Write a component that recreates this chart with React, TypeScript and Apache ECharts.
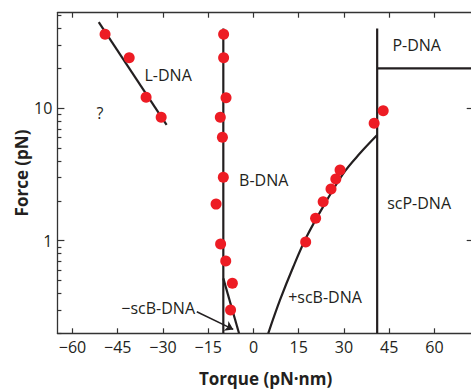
import React, { useEffect, useRef } from "react";
import * as echarts from "echarts";

// Torque (pN·nm) / Force (pN) measured points
const lDnaTorque = [-49.2, -41.2, -35.6, -30.6];
const lDnaForce = [36.2, 24.1, 12.1, 8.55];
const bDnaTorque = [-9.9, -9.9, -9.1, -11.0, -10.3, -10.0, -12.4, -10.9, -9.2, -7.0, -7.6];
const bDnaForce = [36.2, 24.1, 12.0, 8.55, 6.04, 3.01, 1.89, 0.944, 0.703, 0.477, 0.3];
const posScTorque = [17.3, 20.6, 23.1, 25.7, 27.3, 28.7, 40.0, 43.0];
const posScForce = [0.98, 1.48, 1.97, 2.46, 2.92, 3.42, 7.7, 9.6];

// phase boundary lines
const lFitTorque = [-51.3, -28.8];
const lFitForce = [44.7, 7.5];
const bLineTorque = [-10, -10];
const bLineForce = [40, 0.2];
const negScTorque = [-10, -4.8];
const negScForce = [0.52, 0.2];
const posCurveTorque = [4.9, 8.8, 13.2, 17.6, 23.1, 29.8, 35.3, 41.0];
const posCurveForce = [0.2, 0.357, 0.636, 1.07, 1.81, 3.23, 4.57, 6.28];
const scPTorque = [41, 41];
const scPForce = [0.2, 40];
const pDnaTorque = [41, 73];
const pDnaForce = [20, 20];

// region labels
const labelTexts = ["L-DNA", "?", "B-DNA", "P-DNA", "scP-DNA", "+scB-DNA", "\u2212scB-DNA"];
const labelTorque = [-28.3, -50.9, 3.4, 54.1, 54.9, 23.7, -31.6];
const labelForce = [17.8, 9.17, 2.87, 30.1, 1.92, 0.378, 0.309];
const arrowTorque = [-18.8, -6.7];
const arrowForce = [0.291, 0.214];

// axes
const xTicks = [-60, -45, -30, -15, 0, 15, 30, 45, 60];
const yMajor = [1, 10];
const yMinor = [0.2, 0.3, 0.4, 0.5, 0.6, 0.7, 0.8, 0.9, 2, 3, 4, 5, 6, 7, 8, 9, 20, 30, 40, 50];
const xMin = -65;
const xMax = 73;
const yMin = 0.2;
const yMax = 52.7;

const FONT = "'Open Sans', 'Noto Sans', sans-serif";
const INK = "#231f20";
const AXIS = "#333333";
const RED = "#ed1c24";

const zip = (a: number[], b: number[]) => a.map((v, i) => [v, b[i]]);

export default function App() {
  const ref = useRef<HTMLDivElement>(null);
  useEffect(() => {
    if (!ref.current) return;
    const chart = echarts.init(ref.current, null, { renderer: "svg" });
    const lg = Math.log10;
    const axisLine = { show: true, onZero: false, lineStyle: { color: AXIS, width: 1.3 } };
    const tickStyle = { color: AXIS, width: 1.2 };
    const lineSeries = (t: number[], f: number[], smooth: number | boolean = false) => ({
      type: "line",
      data: zip(t, f),
      showSymbol: false,
      symbol: "none",
      smooth,
      lineStyle: { color: INK, width: 2.2 },
      z: 2,
      silent: true,
    });
    const dotSeries = (t: number[], f: number[]) => ({
      type: "scatter",
      data: zip(t, f),
      symbol: "circle",
      symbolSize: 11,
      itemStyle: { color: RED, opacity: 1 },
      z: 5,
      silent: true,
    });
    chart.setOption({
      animation: false,
      backgroundColor: "#ffffff",
      grid: {
        left: 57.4,
        top: 12.7,
        right: -2.7,
        bottom: 57.7,
        containLabel: false,
        outerBoundsMode: "none",
      },
      xAxis: [
        {
          type: "value",
          min: xMin,
          max: xMax,
          position: "bottom",
          axisLine,
          axisTick: { show: true, inside: true, length: 5, customValues: xTicks, lineStyle: tickStyle },
          axisLabel: {
            customValues: xTicks,
            formatter: (v: number) => (v < 0 ? "\u2212" + Math.abs(v) : String(v)),
            margin: 6,
            fontSize: 16,
            color: INK,
            fontFamily: FONT,
          },
          splitLine: { show: false },
          name: "Torque (pN\u00b7nm)",
          nameLocation: "middle",
          nameGap: 37,
          nameTextStyle: { fontSize: 17, fontWeight: "bold", color: INK, fontFamily: FONT },
        },
        {
          type: "value",
          min: xMin,
          max: xMax,
          position: "top",
          axisLine,
          axisTick: { show: true, inside: true, length: 5, customValues: xTicks, lineStyle: tickStyle },
          axisLabel: { show: false },
          splitLine: { show: false },
        },
      ],
      yAxis: [
        {
          type: "log",
          logBase: 10,
          min: yMin,
          max: yMax,
          position: "left",
          axisLine,
          axisTick: { show: false },
          axisLabel: { show: false },
          splitLine: { show: false },
          name: "Force (pN)",
          nameLocation: "middle",
          nameGap: 27,
          nameTextStyle: { fontSize: 17, fontWeight: "bold", color: INK, fontFamily: FONT },
        },
        {
          type: "value",
          min: lg(yMin),
          max: lg(yMax),
          position: "left",
          axisLine: { show: false, onZero: false },
          axisTick: { show: true, inside: true, length: 7, customValues: yMajor.map(lg), lineStyle: tickStyle },
          axisLabel: {
            customValues: yMajor.map(lg),
            formatter: (v: number) => String(Math.round(Math.pow(10, v))),
            margin: 5,
            fontSize: 16,
            color: INK,
            fontFamily: FONT,
          },
          splitLine: { show: false },
        },
        {
          type: "value",
          min: lg(yMin),
          max: lg(yMax),
          position: "left",
          axisLine: { show: false, onZero: false },
          axisTick: { show: true, inside: true, length: 4, customValues: yMinor.map(lg), lineStyle: tickStyle },
          axisLabel: { show: false },
          splitLine: { show: false },
        },
        {
          type: "value",
          min: lg(yMin),
          max: lg(yMax),
          position: "right",
          axisLine,
          axisTick: { show: true, inside: true, length: 7, customValues: yMajor.map(lg), lineStyle: tickStyle },
          axisLabel: { show: false },
          splitLine: { show: false },
        },
      ],
      series: [
        lineSeries(lFitTorque, lFitForce),
        lineSeries(bLineTorque, bLineForce),
        lineSeries(negScTorque, negScForce),
        lineSeries(posCurveTorque, posCurveForce, 0.35),
        lineSeries(scPTorque, scPForce),
        lineSeries(pDnaTorque, pDnaForce),
        dotSeries(lDnaTorque, lDnaForce),
        dotSeries(bDnaTorque, bDnaForce),
        dotSeries(posScTorque, posScForce),
        {
          type: "scatter",
          data: labelTexts.map((s, i) => ({ value: [labelTorque[i], labelForce[i]], name: s })),
          symbolSize: 2,
          itemStyle: { color: "rgba(255,255,255,0)" },
          label: {
            show: true,
            position: "inside",
            formatter: (p: any) => p.name,
            fontSize: 16,
            color: INK,
            fontFamily: FONT,
            textBorderWidth: 0,
            textBorderColor: "transparent",
            opacity: 1,
          },
          labelLayout: { hideOverlap: false },
          z: 6,
          silent: true,
          markLine: {
            silent: true,
            symbol: ["none", "arrow"],
            symbolSize: 8,
            label: { show: false },
            lineStyle: { color: INK, width: 1.5, type: "solid" },
            data: [
              [
                { coord: [arrowTorque[0], arrowForce[0]] },
                { coord: [arrowTorque[1], arrowForce[1]] },
              ],
            ],
          },
        },
      ],
    });
    return () => chart.dispose();
  }, []);
  return (
    <div
      ref={ref}
      style={{ position: "absolute", left: 0, top: 0, width: 471, height: 391, background: "#fff" }}
    />
  );
}
